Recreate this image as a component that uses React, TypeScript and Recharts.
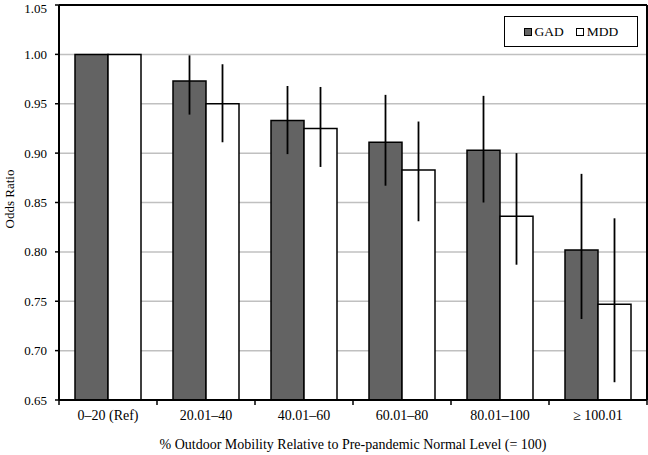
import React from "react";
import {
  BarChart,
  Bar,
  XAxis,
  YAxis,
  CartesianGrid,
  ErrorBar,
  Legend,
  ReferenceLine,
} from "recharts";

// ── Data ──────────────────────────────────────────────────────────────────────

const categories = ["0–20 (Ref)", "20.01–40", "40.01–60", "60.01–80", "80.01–100", "≥ 100.01"];

const gad = [1.0, 0.973, 0.933, 0.911, 0.903, 0.802];
const gadLow = [1.0, 0.939, 0.899, 0.867, 0.85, 0.732];
const gadHigh = [1.0, 0.999, 0.968, 0.959, 0.958, 0.879];

const mdd = [1.0, 0.95, 0.925, 0.883, 0.836, 0.747];
const mddLow = [1.0, 0.911, 0.886, 0.831, 0.787, 0.668];
const mddHigh = [1.0, 0.99, 0.967, 0.932, 0.9, 0.834];

const yTicks = [0.65, 0.7, 0.75, 0.8, 0.85, 0.9, 0.95, 1.0, 1.05];

const data = categories.map((name, i) => ({
  name,
  gad: gad[i],
  mdd: mdd[i],
  gadErr: [gad[i] - gadLow[i], gadHigh[i] - gad[i]],
  mddErr: [mdd[i] - mddLow[i], mddHigh[i] - mdd[i]],
}));

const FONT = "'Liberation Serif', 'Times New Roman', serif";
const GRAY = "#636363";
const HALF_BAND = 49;

// ── Category tick: label at the centre, tick marks at the band edges ─────────

function CategoryTick(props: any) {
  const { x, y, payload, index } = props;
  const last = index === categories.length - 1;
  return (
    <g>
      <line x1={x - HALF_BAND} x2={x - HALF_BAND} y1={y - 8} y2={y - 3} stroke="#000" strokeWidth={1.5} />
      {last && <line x1={x + HALF_BAND} x2={x + HALF_BAND} y1={y - 8} y2={y - 3} stroke="#000" strokeWidth={1.5} />}
      <text x={x} y={y + 12} textAnchor="middle" fontFamily={FONT} fontSize={14} fill="#000">
        {payload.value}
      </text>
    </g>
  );
}

function LegendBox(props: any) {
  const items = props.payload || [];
  return (
    <div
      style={{
        border: "1.5px solid #000",
        background: "#fff",
        height: "100%",
        boxSizing: "border-box",
        display: "flex",
        alignItems: "center",
        justifyContent: "center",
        gap: 12,
        fontFamily: FONT,
        fontSize: 13.5,
        color: "#000",
      }}
    >
      {items.map((it: any) => (
        <span key={it.value} style={{ display: "flex", alignItems: "center", gap: 3 }}>
          <span
            style={{
              display: "inline-block",
              width: 6,
              height: 6,
              border: "1px solid #000",
              background: it.payload.fill,
            }}
          />
          {it.value}
        </span>
      ))}
    </div>
  );
}

export default function App() {
  return (
    <div style={{ width: 648, height: 455, background: "#fff" }}>
      <style>{`body{margin:0}`}</style>
      <BarChart
        width={648}
        height={455}
        data={data}
        margin={{ top: 5, right: 0, bottom: 0, left: 0 }}
        barGap={0}
        barSize={33}
      >
        <CartesianGrid vertical={false} stroke="#c0c0c0" strokeWidth={1.5} />
        <XAxis
          dataKey="name"
          height={55}
          axisLine={{ stroke: "#000", strokeWidth: 2 }}
          tickLine={false}
          tick={<CategoryTick />}
          interval={0}
          label={{
            value: "% Outdoor Mobility Relative to Pre-pandemic Normal Level (= 100)",
            position: "insideBottom",
            offset: 6,
            style: { fontFamily: FONT, fontSize: 14, fill: "#000" },
          }}
        />
        <YAxis
          width={59}
          domain={[0.65, 1.05]}
          ticks={yTicks}
          allowDataOverflow
          tickFormatter={(v: number) => v.toFixed(2)}
          axisLine={{ stroke: "#000", strokeWidth: 2 }}
          tickLine={{ stroke: "#000", strokeWidth: 1.5 }}
          tickSize={4}
          tickMargin={8}
          tick={{ fontFamily: FONT, fontSize: 13, fill: "#000" }}
          label={{
            content: () => (
              <text
                x={11}
                y={199}
                transform="rotate(-90 11 199)"
                textAnchor="middle"
                dominantBaseline="middle"
                fontFamily={FONT}
                fontSize={13}
                fill="#000"
              >
                Odds Ratio
              </text>
            ),
          }}
        />
        <YAxis
          yAxisId="r"
          orientation="right"
          width={1}
          domain={[0, 1]}
          tick={false}
          tickLine={false}
          axisLine={{ stroke: "#000", strokeWidth: 2 }}
        />
        <ReferenceLine y={1.05} stroke="#000" strokeWidth={2} />
        <Legend
          layout="horizontal"
          verticalAlign="middle"
          align="center"
          wrapperStyle={{ top: 16, left: 504, width: 134, height: 31 }}
          content={<LegendBox />}
        />
        <Bar dataKey="gad" name="GAD" fill={GRAY} stroke="#000" strokeWidth={1.5} isAnimationActive={false}>
          <ErrorBar dataKey="gadErr" width={0} stroke="#000" strokeWidth={1.8} isAnimationActive={false} />
        </Bar>
        <Bar dataKey="mdd" name="MDD" fill="#fff" stroke="#000" strokeWidth={1.5} isAnimationActive={false}>
          <ErrorBar dataKey="mddErr" width={0} stroke="#000" strokeWidth={1.8} isAnimationActive={false} />
        </Bar>
      </BarChart>
    </div>
  );
}
